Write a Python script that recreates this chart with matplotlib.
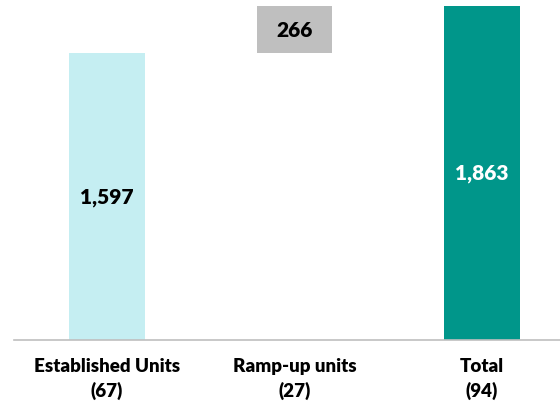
import matplotlib
matplotlib.use("Agg")
import matplotlib.pyplot as plt
import numpy as np

# Waterfall data
categories = ["Established Units\n(67)", "Ramp-up units\n(27)", "Total\n(94)"]
values = [1597, 266, 1863]
bottoms = [0, 1597, 0]
colors = ["#C5EEF2", "#BFBFBF", "#00968A"]
label_colors = ["black", "black", "white"]

plt.rcParams['font.family'] = ['Lato', 'DejaVu Sans']

fig = plt.figure(figsize=(5.6, 4.1), dpi=100)
ax = fig.add_axes([0.025, 0.168, 0.975, 0.816])

x = np.arange(len(categories))
ax.bar(x, values, bottom=bottoms, width=0.405, color=colors, zorder=2)

for xi, v, b, c in zip(x, values, bottoms, label_colors):
    ax.text(xi, b + v / 2, "{:,}".format(v), ha="center", va="center",
            fontsize=15, fontweight="heavy", color=c, zorder=3)

ax.set_xlim(-0.496, 2.416)
ax.set_ylim(0, 1863)

for side in ["left", "right", "top"]:
    ax.spines[side].set_visible(False)
ax.spines["bottom"].set_color("#BFBFBF")
ax.spines["bottom"].set_linewidth(1.2)
ax.set_yticks([])
ax.set_xticks(x)
ax.set_xticklabels(categories, fontsize=13.5, fontweight="heavy", linespacing=1.45)
ax.tick_params(axis="x", length=0, pad=12)

fig.savefig("out.png", dpi=100)
